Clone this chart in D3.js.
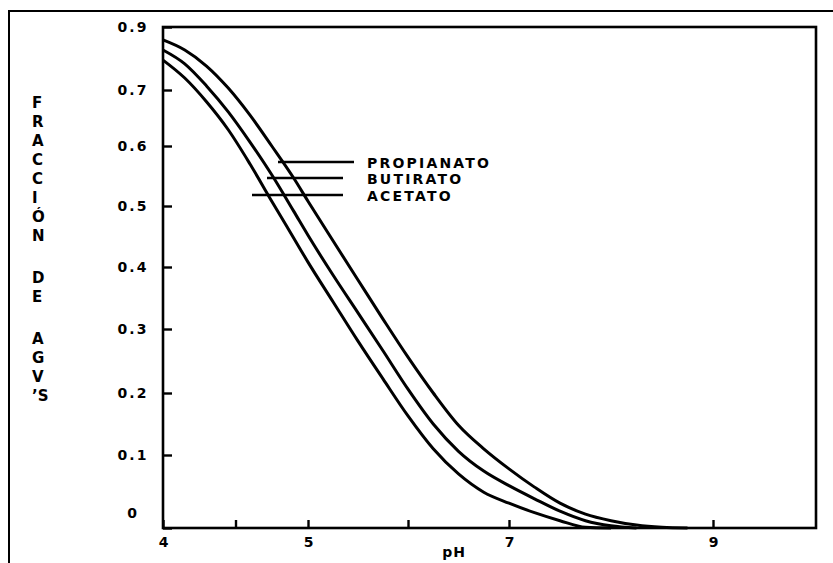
<!DOCTYPE html>
<html>
<head>
<meta charset="utf-8">
<script src="https://cdn.jsdelivr.net/npm/d3@7"></script>
<style>
  body { margin: 0; background: #fff; }
  svg { display: block; font-family: 'DejaVu Sans', sans-serif; font-weight: bold; }
</style>
</head>
<body>
<script>
'use strict';

const phValues = [4, 4.15, 4.3, 4.45, 4.6, 4.75, 4.9, 5, 5.25, 5.5, 5.75, 6,
  6.25, 6.5, 6.75, 7, 7.25, 7.5, 7.75, 8, 8.25, 8.5, 8.75];

const propianato = [0.859, 0.827, 0.776, 0.706, 0.655, 0.600, 0.547, 0.508, 0.443, 0.379, 0.316, 0.256,
  0.200, 0.148, 0.110, 0.081, 0.056, 0.034, 0.019, 0.010, 0.004, 0.001, 0];
const butirato = [0.827, 0.783, 0.713, 0.661, 0.607, 0.552, 0.492, 0.452, 0.387, 0.326, 0.266, 0.206,
  0.150, 0.106, 0.078, 0.058, 0.040, 0.023, 0.010, 0.003, 0];
const acetato = [0.795, 0.738, 0.679, 0.629, 0.570, 0.508, 0.448, 0.408, 0.344, 0.281, 0.222, 0.163,
  0.110, 0.074, 0.049, 0.034, 0.021, 0.010, 0.001, 0];

const seriesNames = ['PROPIANATO', 'BUTIRATO', 'ACETATO'];
const xTickValues = [4, 4.5, 5, 6, 7, 9];
const xTickLabels = [4, 5, 7, 9];
const xTitle = 'pH';
const yTickValues = [0, 0.1, 0.2, 0.3, 0.4, 0.5, 0.6, 0.7, 0.9];
const yTitleWords = [['F', 'R', 'A', 'C', 'C', 'I', 'Ó', 'N'], ['D', 'E'], ['A', 'G', 'V', '\u2019S']];

const width = 833,
  height = 563;

const plot = {left: 163, top: 27, right: 816, bottom: 528};

const svg = d3.select('body')
  .append('svg')
  .attr('width', width)
  .attr('height', height);

// the scanned axes are not evenly spaced, so both scales are piecewise
const x = d3.scaleLinear()
  .domain([4, 5, 6, 7, 9, 10])
  .range([plot.left, 308, 408, 509, 713, plot.right]);

const y = d3.scaleLinear()
  .domain([0, 0.1, 0.2, 0.3, 0.4, 0.5, 0.6, 0.7, 0.9])
  .range([plot.bottom, 455, 393, 329, 267, 206, 146, 90, plot.top]);

// outer frame (runs off the page at right and bottom)
svg.append('path')
  .attr('d', `M9,${height + 5}V11H${width + 5}`)
  .attr('fill', 'none')
  .attr('stroke', '#000')
  .attr('stroke-width', 2);

// plot frame
svg.append('rect')
  .attr('x', plot.left)
  .attr('y', plot.top)
  .attr('width', plot.right - plot.left)
  .attr('height', plot.bottom - plot.top)
  .attr('fill', 'none')
  .attr('stroke', '#000')
  .attr('stroke-width', 2.6);

// x axis: ticks point up into the plot
const xAxis = d3.axisBottom(x)
  .tickValues(xTickValues)
  .tickSizeInner(-8)
  .tickSizeOuter(0)
  .tickFormat(d => xTickLabels.includes(d) ? d : '');

const gx = svg.append('g')
  .attr('transform', `translate(0,${plot.bottom})`)
  .call(xAxis);
gx.select('.domain').remove();
gx.selectAll('.tick line').attr('stroke', '#000').attr('stroke-width', 2.4);
gx.selectAll('.tick text')
  .attr('y', 19)
  .attr('dy', 0)
  .attr('fill', '#000')
  .style('font-size', '14px')
  .style('font-family', "'DejaVu Sans', sans-serif")
  .style('font-weight', 'bold');

svg.append('text')
  .attr('x', 454)
  .attr('y', 557)
  .attr('text-anchor', 'middle')
  .style('font-size', '14px')
  .style('letter-spacing', '1px')
  .text(xTitle);

// y axis: ticks point right into the plot
const yAxis = d3.axisLeft(y)
  .tickValues(yTickValues)
  .tickSizeInner(-9)
  .tickSizeOuter(0)
  .tickFormat(d => d === 0 ? '0' : d3.format('.1f')(d));

const gy = svg.append('g')
  .attr('transform', `translate(${plot.left},0)`)
  .call(yAxis);
gy.select('.domain').remove();
gy.selectAll('.tick line').attr('stroke', '#000').attr('stroke-width', 2.4);
gy.selectAll('.tick text')
  .attr('x', -30)
  .attr('y', d => d === 0 ? -15 : 0)
  .attr('text-anchor', 'middle')
  .attr('fill', '#000')
  .style('font-size', '14px')
  .style('letter-spacing', '2px')
  .style('font-family', "'DejaVu Sans', sans-serif")
  .style('font-weight', 'bold');

// vertical y title, one letter per line
const titleStep = 19,
  wordGap = 42;
let ty = 108;
yTitleWords.forEach((word, wi) => {
  if (wi > 0) ty += wordGap - titleStep;
  word.forEach(ch => {
    svg.append('text')
      .attr('x', 32)
      .attr('y', ty)
      .style('font-size', '15px')
      .text(ch);
    ty += titleStep;
  });
});

// curves
const series = [propianato, butirato, acetato];

const line = d3.line()
  .x(d => x(d.ph))
  .y(d => y(d.v))
  .curve(d3.curveMonotoneX);

svg.append('g')
  .selectAll('path')
  .data(series)
  .enter()
  .append('path')
  .attr('d', vals => line(vals.map((v, i) => ({ph: phValues[i], v}))))
  .attr('fill', 'none')
  .attr('stroke', '#000')
  .attr('stroke-width', 3)
  .attr('stroke-linejoin', 'round');

// legend, drawn across the curves like in the original
const legendLines = [[278, 354, 162], [267, 343, 178], [252, 343, 195]];
const legend = svg.append('g');

legend.selectAll('line')
  .data(seriesNames)
  .enter()
  .append('line')
  .attr('x1', (d, i) => legendLines[i][0])
  .attr('x2', (d, i) => legendLines[i][1])
  .attr('y1', (d, i) => legendLines[i][2])
  .attr('y2', (d, i) => legendLines[i][2])
  .attr('stroke', '#000')
  .attr('stroke-width', 2.4);

legend.selectAll('text')
  .data(seriesNames)
  .enter()
  .append('text')
  .attr('x', 367)
  .attr('y', (d, i) => legendLines[i][2] + 6)
  .style('font-size', '14px')
  .style('letter-spacing', '2.2px')
  .text(d => d);
</script>
</body>
</html>
